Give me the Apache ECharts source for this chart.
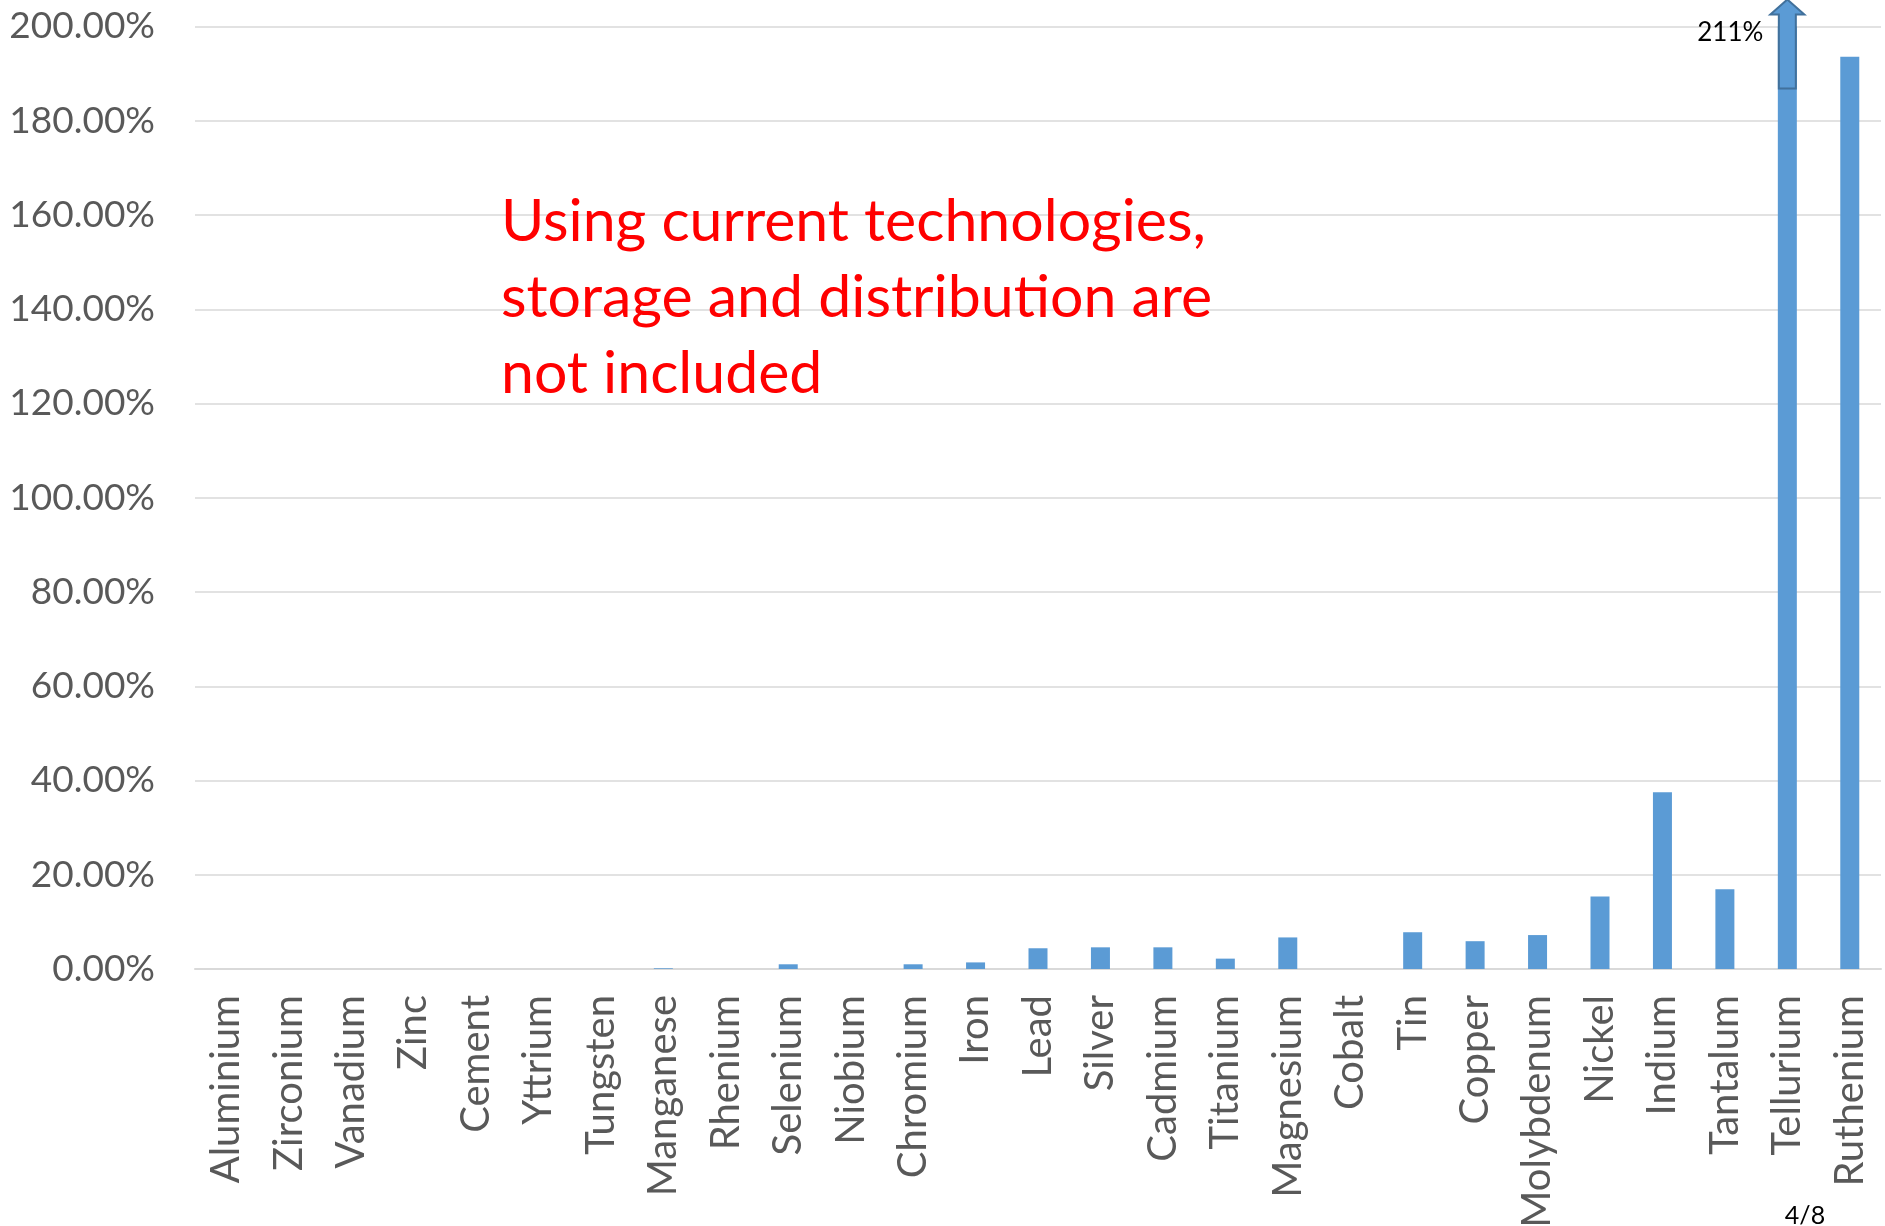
<!DOCTYPE html>
<html><head><meta charset="utf-8">
<script src="https://cdn.jsdelivr.net/npm/echarts@6/dist/echarts.min.js"></script>
<style>html,body{margin:0;padding:0;background:#fff}#c{width:1885px;height:1226px}</style>
</head><body><div id="c"></div>
<script>
const categories = ['Aluminium','Zirconium','Vanadium','Zinc','Cement','Yttrium','Tungsten','Manganese','Rhenium','Selenium','Niobium','Chromium','Iron','Lead','Silver','Cadmium','Titanium','Magnesium','Cobalt','Tin','Copper','Molybdenum','Nickel','Indium','Tantalum','Tellurium','Ruthenium'];
const values = [0,0,0,0,0,0,0,0.15,-0.8,1.0,0,1.0,1.4,4.4,4.6,4.6,2.2,6.7,-0.7,7.8,5.9,7.2,15.4,37.5,16.9,211,193.6];
const yTicks = [0,20,40,60,80,100,120,140,160,180,200];
const noteLines = ['Using current technologies,','storage and distribution are','not included'];
const arrowLabel = '211%';
const pageLabel = '4/8';

(function(){
const chart = echarts.init(document.getElementById('c'));
const font = 'Lato, "Noto Sans", sans-serif';
chart.setOption({
  animation:false,
  grid:{left:195,right:4,top:26.5,bottom:257,containLabel:false,outerBoundsMode:'none'},
  xAxis:{type:'category',data:categories,
    axisLine:{lineStyle:{color:'#d9d9d9',width:2}},axisTick:{show:false},
    axisLabel:{rotate:90,color:'#595959',fontSize:40,fontFamily:font,margin:26,interval:0}},
  yAxis:{type:'value',min:yTicks[0],max:yTicks[yTicks.length-1],interval:yTicks[1]-yTicks[0],
    axisLabel:{formatter:v=>v.toFixed(2)+'%',color:'#595959',fontSize:37,fontFamily:font,margin:40},
    splitLine:{lineStyle:{color:'#d9d9d9',width:1.5}},axisLine:{show:false},axisTick:{show:false}},
  series:[{type:'bar',data:values,barWidth:19,clip:true,z:3,itemStyle:{color:'#5b9bd5'}}]
});

const p = chart.convertToPixel({xAxisIndex:0,yAxisIndex:0},['Tellurium',200]);
const cx = p[0], gTop = p[1];
const tip = gTop-27, headBase = gTop-12, bottom = gTop+62;
chart.setOption({graphic:[
  {type:'polygon',z:100,shape:{points:[[cx,tip],[cx+17,headBase],[cx+8.5,headBase],[cx+8.5,bottom],[cx-8.5,bottom],[cx-8.5,headBase],[cx-17,headBase]]},
   style:{fill:'#5b9bd5',stroke:'#41719c',lineWidth:2}},
  {type:'text',z:100,x:cx-24,y:gTop+6,style:{text:arrowLabel,fill:'#000',font:'26px '+font,align:'right',verticalAlign:'middle'}},
  {type:'text',z:100,x:1805,y:1216,style:{text:pageLabel,fill:'#000',font:'25px '+font,align:'center',verticalAlign:'middle'}},
  {type:'text',z:100,x:501,y:222,style:{text:noteLines[0],fill:'#ff0000',font:'59px '+font,verticalAlign:'middle'}},
  {type:'text',z:100,x:501,y:298,style:{text:noteLines[1],fill:'#ff0000',font:'59px '+font,verticalAlign:'middle'}},
  {type:'text',z:100,x:501,y:374,style:{text:noteLines[2],fill:'#ff0000',font:'59px '+font,verticalAlign:'middle'}}
]});
})();
</script></body></html>
